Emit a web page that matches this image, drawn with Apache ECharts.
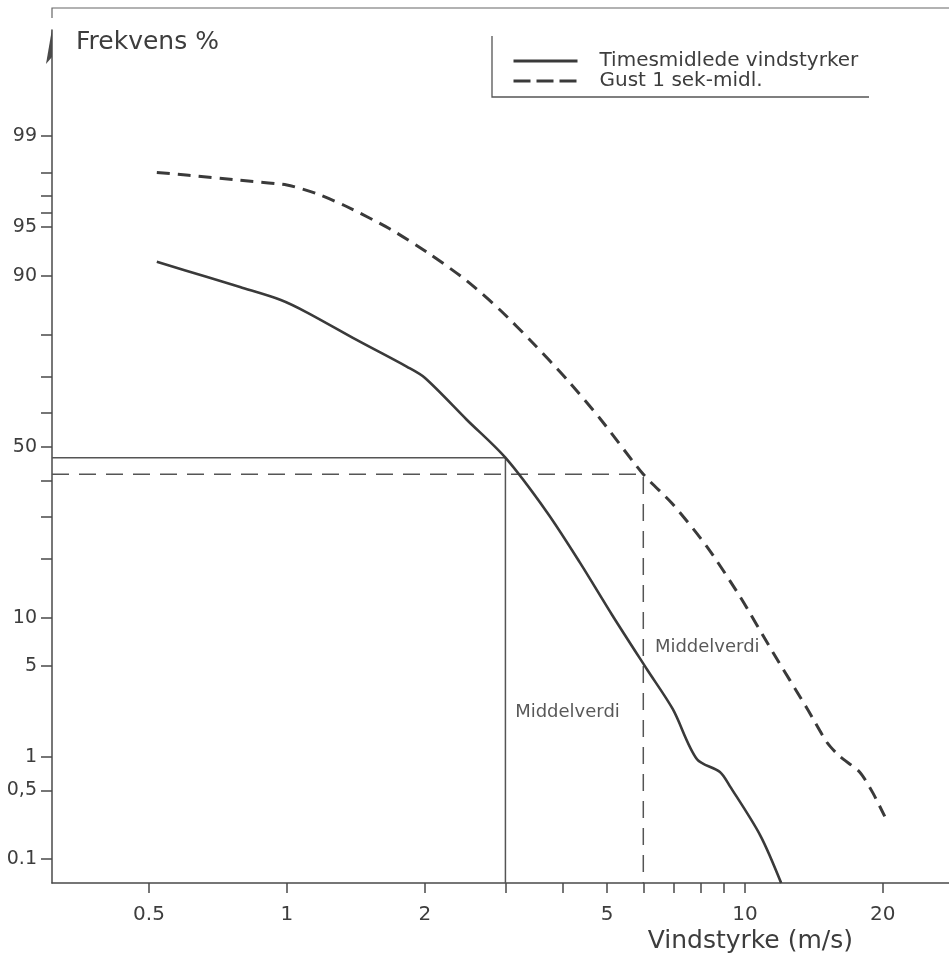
<!DOCTYPE html>
<html>
<head>
<meta charset="utf-8">
<title>Frekvens – vindstyrke</title>
<script src="https://cdn.jsdelivr.net/npm/echarts@6/dist/echarts.min.js"></script>
<style>
  html, body { margin: 0; padding: 0; background: #ffffff; }
  #chart { width: 949px; height: 954px; }
</style>
</head>
<body>
<div id="chart"></div>
<script>
// Wind speed (m/s) and exceedance frequency (%) for hourly mean winds
const windHourly = [0.52, 0.67, 0.79, 0.97, 1.11, 1.42, 1.83, 2.0, 2.47, 3.0, 3.70, 4.36, 5.15, 6.11, 6.96, 7.86, 8.82, 9.27, 10.8, 12.0];
const freqHourly = [91.7, 89.8, 88.4, 86.4, 84.2, 78.8, 72.5, 69.7, 58.0, 46.7, 31.1, 19.3, 10.2, 4.77, 2.46, 0.96, 0.74, 0.55, 0.18, 0.054];

// Gusts, 1-second means
const windGust = [0.52, 0.61, 0.79, 1.00, 1.16, 1.35, 1.68, 2.05, 2.47, 2.92, 3.44, 4.09, 4.83, 6.0, 6.96, 8.26, 9.75, 11.5, 13.7, 15.1, 16.1, 17.8, 19.0, 20.2];
const freqGust = [98.0, 97.9, 97.7, 97.5, 97.1, 96.4, 94.85, 92.55, 89.3, 84.7, 78.2, 69.2, 58.3, 41.8, 33.3, 22.7, 13.1, 6.2, 2.46, 1.34, 1.02, 0.74, 0.48, 0.28];

// Mean values (wind speed, frequency %)
const meanHourly = [3.0, 46.7];
const meanGust = [6.0, 41.8];

// Axis ticks
const xLabelValues = [0.5, 1, 2, 5, 10, 20];
const xLabelTexts = ['0.5', '1', '2', '5', '10', '20'];
const xTickValues = [0.5, 1, 2, 3, 4, 5, 6, 7, 8, 9, 10, 20];
const yLabelValues = [0.1, 0.5, 1, 5, 10, 50, 90, 95, 99];
const yLabelTexts = ['0.1', '0,5', '1', '5', '10', '50', '90', '95', '99'];
const yTickValues = [0.1, 0.5, 1, 5, 10, 20, 30, 40, 50, 60, 70, 80, 90, 95, 96, 97, 98, 99];

// Axis extents
const xMin = 0.307, xMax = 27.9;
const yMinPct = 0.054, yMaxPct = 99.91;

// Inverse standard normal CDF (probability paper scale)
function probit(p) {
  const a = [-3.969683028665376e+01, 2.209460984245205e+02, -2.759285104469687e+02, 1.383577518672690e+02, -3.066479806614716e+01, 2.506628277459239e+00];
  const b = [-5.447609879822406e+01, 1.615858368580409e+02, -1.556989798598866e+02, 6.680131188771972e+01, -1.328068155288572e+01];
  const c = [-7.784894002430293e-03, -3.223964580411365e-01, -2.400758277161838e+00, -2.549671154667024e+00, 4.374664141464968e+00, 2.938163982698783e+00];
  const d = [7.784695709041462e-03, 3.224671290700398e-01, 2.445134137142996e+00, 3.754408661907416e+00];
  const pl = 0.02425, ph = 1 - pl;
  let q, r;
  if (p < pl) {
    q = Math.sqrt(-2 * Math.log(p));
    return (((((c[0] * q + c[1]) * q + c[2]) * q + c[3]) * q + c[4]) * q + c[5]) /
           ((((d[0] * q + d[1]) * q + d[2]) * q + d[3]) * q + 1);
  }
  if (p <= ph) {
    q = p - 0.5; r = q * q;
    return (((((a[0] * r + a[1]) * r + a[2]) * r + a[3]) * r + a[4]) * r + a[5]) * q /
           (((((b[0] * r + b[1]) * r + b[2]) * r + b[3]) * r + b[4]) * r + 1);
  }
  q = Math.sqrt(-2 * Math.log(1 - p));
  return -(((((c[0] * q + c[1]) * q + c[2]) * q + c[3]) * q + c[4]) * q + c[5]) /
          ((((d[0] * q + d[1]) * q + d[2]) * q + d[3]) * q + 1);
}
const z = pct => probit(pct / 100);

const pairs = (xs, ps) => xs.map((x, i) => [x, z(ps[i])]);

const FONT = 'DejaVu Sans';
const INK = '#3a3a3a';
const TEXT = '#3d3d3d';
const AXIS = '#4a4a4a';

const yLabelZ = yLabelValues.map(z);
function yLabelFor(v) {
  let best = 0;
  for (let i = 1; i < yLabelZ.length; i++) {
    if (Math.abs(yLabelZ[i] - v) < Math.abs(yLabelZ[best] - v)) best = i;
  }
  return yLabelTexts[best];
}
function xLabelFor(v) {
  let best = 0;
  for (let i = 1; i < xLabelValues.length; i++) {
    if (Math.abs(Math.log(xLabelValues[i] / v)) < Math.abs(Math.log(xLabelValues[best] / v))) best = i;
  }
  return xLabelTexts[best];
}

const chart = echarts.init(document.getElementById('chart'), null, { renderer: 'canvas' });

const option = {
  animation: false,
  backgroundColor: '#ffffff',
  textStyle: { fontFamily: FONT },
  grid: { left: 52, right: 0, top: 30, bottom: 70, containLabel: false },
  legend: {
    left: 512, top: 51, orient: 'vertical', padding: 0, itemGap: 0,
    itemWidth: 64, itemHeight: 14,
    itemStyle: { opacity: 0 },
    data: [
      { name: 'Timesmidlede vindstyrker', lineStyle: { width: 3 } },
      { name: 'Gust 1 sek-midl.', lineStyle: { width: 3, type: [17, 6] } }
    ],
    textStyle: { fontFamily: FONT, fontSize: 20, color: TEXT, lineHeight: 20, padding: [0, 0, 0, 17] },
    selectedMode: false
  },
  xAxis: {
    type: 'log', min: xMin, max: xMax,
    name: 'Vindstyrke (m/s)', nameLocation: 'end', nameGap: -96,
    nameTextStyle: { fontFamily: FONT, fontSize: 25, color: TEXT, align: 'right', verticalAlign: 'top', padding: [46, 0, 0, 0] },
    axisLine: { onZero: false, lineStyle: { color: AXIS, width: 1.5 } },
    axisTick: { customValues: xTickValues, length: 10, lineStyle: { color: AXIS, width: 1.5 } },
    axisLabel: { customValues: xLabelValues, formatter: v => xLabelFor(v), fontFamily: FONT, fontSize: 20, color: TEXT, margin: 22 },
    splitLine: { show: false }, minorTick: { show: false }
  },
  yAxis: {
    type: 'value', min: z(yMinPct), max: z(yMaxPct),
    name: 'Frekvens %', nameLocation: 'end', nameGap: -12,
    nameTextStyle: { fontFamily: FONT, fontSize: 25, color: TEXT, align: 'left', verticalAlign: 'middle', padding: [0, 0, 0, 24] },
    axisLine: { show: true, onZero: false, lineStyle: { color: AXIS, width: 1.5 } },
    axisTick: { show: true, customValues: yTickValues.map(z), length: 11, lineStyle: { color: AXIS, width: 1.5 } },
    axisLabel: { customValues: yLabelZ, formatter: v => yLabelFor(v), fontFamily: FONT, fontSize: 19, color: TEXT, margin: 15 },
    splitLine: { show: false }
  },
  series: [
    {
      name: 'Timesmidlede vindstyrker', type: 'line', smooth: 0.3, symbol: 'none',
      lineStyle: { color: INK, width: 2.6 }, itemStyle: { color: INK },
      data: pairs(windHourly, freqHourly), z: 5
    },
    {
      name: 'Gust 1 sek-midl.', type: 'line', smooth: 0.25, symbol: 'none',
      lineStyle: { color: INK, width: 3, type: [13, 8] }, itemStyle: { color: INK },
      data: pairs(windGust, freqGust), z: 5
    },
    {
      name: 'Middelverdi timesmidlet', type: 'line', symbol: 'none', silent: true,
      lineStyle: { color: '#555555', width: 1.5 },
      data: [[xMin, z(meanHourly[1])], [meanHourly[0], z(meanHourly[1])], [meanHourly[0], z(yMinPct)]]
    },
    {
      name: 'Middelverdi gust', type: 'line', symbol: 'none', silent: true,
      lineStyle: { color: '#555555', width: 1.5, type: [17, 10] },
      data: [[xMin, z(meanGust[1])], [meanGust[0], z(meanGust[1])], [meanGust[0], z(yMinPct)]]
    },
    {
      name: 'Middelverdi tekst', type: 'scatter', symbolSize: 0, silent: true,
      itemStyle: { color: TEXT },
      label: { show: true, position: 'right', distance: 0, formatter: 'Middelverdi', fontFamily: FONT, fontSize: 18, color: '#2e2e2e' },
      data: [[3.15, z(2.33)], [6.36, z(6.64)]]
    }
  ],
  graphic: [
    // frame line along the top
    { type: 'polyline', silent: true, shape: { points: [[52, 18], [52, 8], [949, 8]] }, style: { stroke: '#666', lineWidth: 1.2, fill: null } },
    // arrow head on the frequency axis
    { type: 'polygon', silent: true, shape: { points: [[52, 29], [46, 64], [52, 57]] }, style: { fill: AXIS } },
    // legend frame (left and bottom edges)
    { type: 'polyline', silent: true, shape: { points: [[492, 36], [492, 97], [869, 97]] }, style: { stroke: '#555', lineWidth: 1.3, fill: null } }
  ]
};

chart.setOption(option);
</script>
</body>
</html>
